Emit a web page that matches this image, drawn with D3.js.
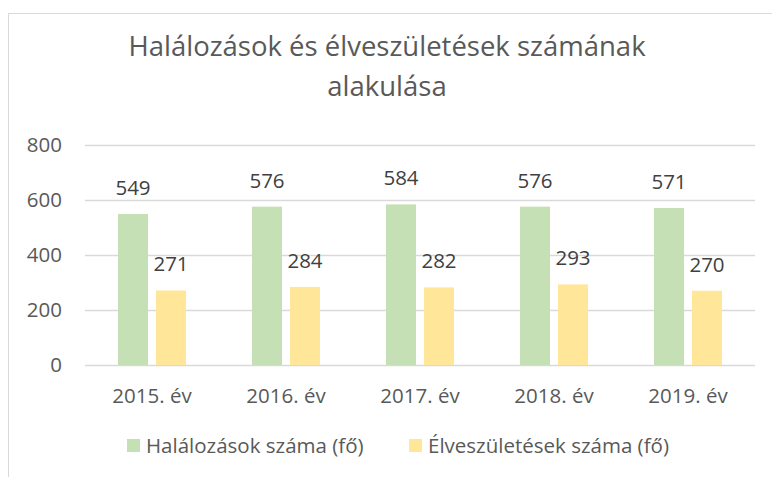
<!DOCTYPE html>
<html lang="hu">
<head>
  <meta charset="UTF-8">
  <title>Halálozások és élveszületések</title>
  <script src="https://d3js.org/d3.v7.min.js"></script>
  <style>
    body { margin: 0; background: #fff; }
    text { font-family: "Open Sans", "Noto Sans", sans-serif; }
  </style>
</head>
<body>
  <div id="chart"></div>
  <script>
    // data
    const years = ["2015. év", "2016. év", "2017. év", "2018. év", "2019. év"];
    const halalozasok = [549, 576, 584, 576, 571];
    const elveszuletesek = [271, 284, 282, 293, 270];
    const seriesNames = ["Halálozások száma (fő)", "Élveszületések száma (fő)"];
    const yTicks = [0, 200, 400, 600, 800];

    const width = 772, height = 477;
    const colors = ["#c5e0b4", "#ffe699"];
    const fs = "20.5px";

    const svg = d3.select("#chart").append("svg")
      .attr("width", width).attr("height", height);

    // chart area border (runs off the right/bottom edge)
    svg.append("rect")
      .attr("x", 8.5).attr("y", 13.5)
      .attr("width", 800).attr("height", 500)
      .attr("fill", "none").attr("stroke", "#d9d9d9");

    // title
    const title = svg.append("text")
      .attr("text-anchor", "middle")
      .attr("fill", "#595959")
      .style("font-size", "27.5px");
    title.append("tspan").attr("x", 387).attr("y", 56).text("Halálozások és élveszületések számának");
    title.append("tspan").attr("x", 387).attr("y", 96).text("alakulása");

    const x = d3.scaleBand().domain(years).range([85, 755]);
    const xSub = d3.scaleBand().domain([0, 1]).range([33, 101]).paddingInner(0.2105);
    const y = d3.scaleLinear().domain([0, 800]).range([365, 145]);

    // gridlines
    svg.append("g").selectAll("line")
      .data(yTicks)
      .join("line")
      .attr("x1", 85).attr("x2", 755)
      .attr("y1", d => Math.round(y(d)) + 0.5).attr("y2", d => Math.round(y(d)) + 0.5)
      .attr("stroke", "#d9d9d9").attr("stroke-width", 1.3);

    // y axis labels
    svg.append("g").selectAll("text")
      .data(yTicks)
      .join("text")
      .attr("x", 62).attr("y", d => y(d))
      .attr("dy", "0.35em")
      .attr("text-anchor", "end")
      .attr("fill", "#595959")
      .style("font-size", fs)
      .text(d => d);

    // x axis labels
    svg.append("g").selectAll("text")
      .data(years)
      .join("text")
      .attr("x", d => x(d) + x.bandwidth() / 2)
      .attr("y", 403)
      .attr("text-anchor", "middle")
      .attr("fill", "#595959")
      .style("font-size", fs)
      .text(d => d);

    const series = [halalozasok, elveszuletesek];
    series.forEach((vals, si) => {
      const g = svg.append("g");
      g.selectAll("rect")
        .data(vals)
        .join("rect")
        .attr("x", (d, i) => x(years[i]) + xSub(si))
        .attr("y", d => y(d))
        .attr("width", xSub.bandwidth())
        .attr("height", d => y(0) - y(d))
        .attr("fill", colors[si]);
      g.selectAll("text")
        .data(vals)
        .join("text")
        .attr("x", (d, i) => x(years[i]) + xSub(si) + xSub.bandwidth() / 2)
        .attr("y", d => y(d) - 19)
        .attr("text-anchor", "middle")
        .attr("fill", "#404040")
        .style("font-size", fs)
        .text(d => d);
    });

    // legend
    const legendX = [127, 409];
    const legend = svg.append("g");
    seriesNames.forEach((name, i) => {
      legend.append("rect")
        .attr("x", legendX[i]).attr("y", 439)
        .attr("width", 13).attr("height", 13)
        .attr("fill", colors[i]);
      legend.append("text")
        .attr("x", legendX[i] + 19).attr("y", 453)
        .attr("fill", "#595959")
        .style("font-size", fs)
        .text(name);
    });
  </script>
</body>
</html>
